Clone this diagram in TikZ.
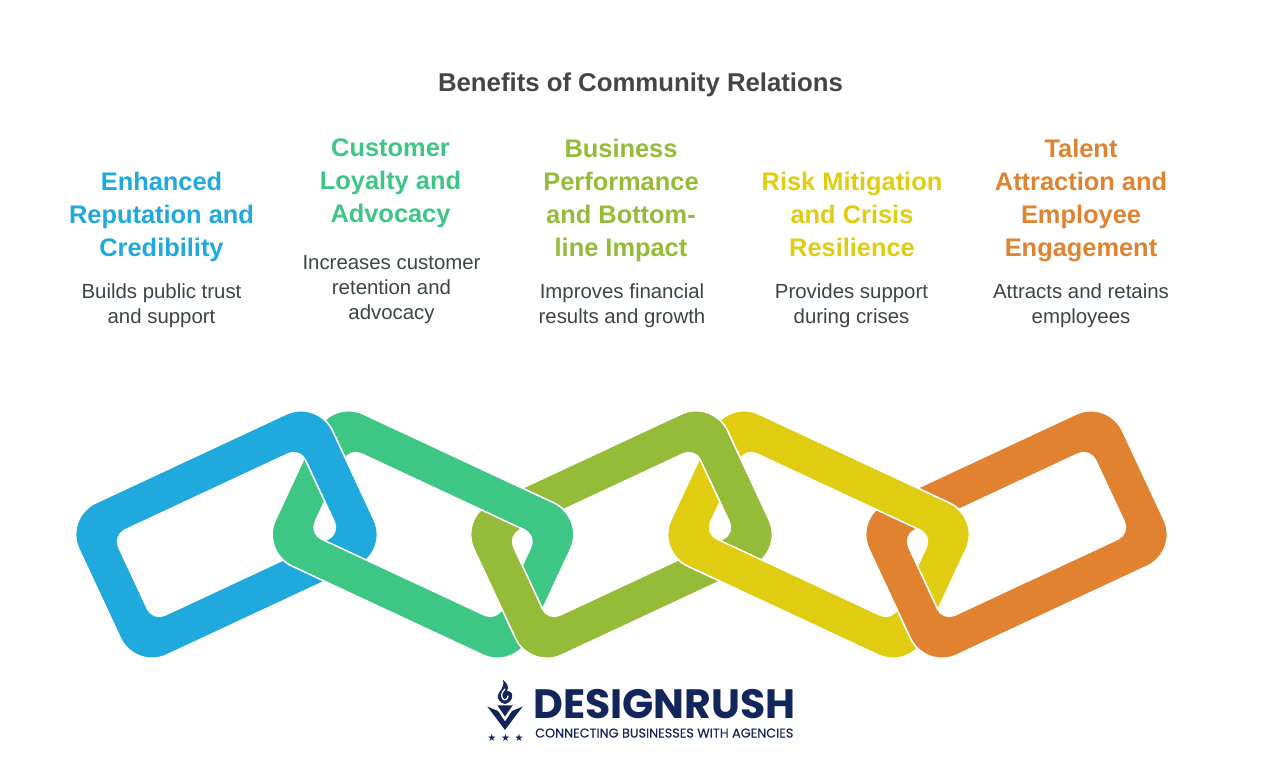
\documentclass[tikz,border=0pt]{standalone}
\usepackage{fontspec}
\setmainfont{Liberation Sans}
\newfontfamily\logofont{Poppins}
\newfontfamily\tagfont[FakeBold=0.2]{Poppins}
\newfontfamily\starfont{DejaVu Sans}
\definecolor{cblue}{HTML}{1FA9DC}
\definecolor{cgreen}{HTML}{3EC684}
\definecolor{clime}{HTML}{94BC38}
\definecolor{cyellow}{HTML}{E0CD12}
\definecolor{corange}{HTML}{E08230}
\definecolor{cnavy}{HTML}{12265C}
\definecolor{ctitle}{HTML}{454545}
\definecolor{cdesc}{HTML}{3C4646}
\newcommand{\chainlink}[4]{%
  \path[shift={(#1,#2)},rotate=#3,fill=#4,draw=white,line width=1.6pt,even odd rule]
    [rounded corners=35pt] (-140,-84) rectangle (140,84)
    [rounded corners=13pt] (-103,-47) rectangle (103,47);}
\tikzset{
  head/.style={font=\fontsize{25.4}{33}\selectfont\bfseries,align=center,anchor=north,inner sep=0pt},
  desc/.style={font=\fontsize{20.4}{25}\selectfont,align=center,anchor=north,inner sep=0pt,text=cdesc}
}
\begin{document}
\begin{tikzpicture}[x=1pt,y=1pt]
\useasboundingbox[fill=white] (0,0) rectangle (1280,766);
\node[font=\fontsize{25.75}{30}\selectfont\bfseries,text=ctitle,inner sep=0pt] (title) at (640.5,681.5) {Benefits of Community Relations};
% headings
\node[head,text=cblue] (h1) at (161.5,594.5) {Enhanced\\Reputation and\\Credibility};
\node[head,text=cgreen] (h2) at (390.5,627) {Customer\\Loyalty and\\Advocacy};
\node[head,text=clime] (h3) at (621,627.5) {Business\\Performance\\and Bottom-\\line Impact};
\node[head,text=cyellow] (h4) at (852,594.5) {Risk Mitigation\\and Crisis\\Resilience};
\node[head,text=corange] (h5) at (1081,627.5) {Talent\\Attraction and\\Employee\\Engagement};
% descriptions
\node[desc] (d1) at (161.5,482) {Builds public trust\\and support};
\node[desc] (d2) at (391.5,511) {Increases customer\\retention and\\advocacy};
\node[desc] (d3) at (622,482) {Improves financial\\results and growth};
\node[desc] (d4) at (851.5,482) {Provides support\\during crises};
\node[desc] (d5) at (1081,482) {Attracts and retains\\employees};
% chain
\chainlink{226.5}{231.5}{25}{cblue}
\chainlink{423}{231.5}{-25}{cgreen}
\chainlink{621.5}{231.5}{25}{clime}
\begin{scope}
  \clip[shift={(423,231.5)},rotate=-25] (-500,46) rectangle (500,500);
  \clip (430,0) rectangle (1280,766);
  \chainlink{423}{231.5}{-25}{cgreen}
\end{scope}
\begin{scope}
  \clip[shift={(423,231.5)},rotate=-25] (-500,-46) rectangle (500,500);
  \clip (250,0) rectangle (400,766);
  \chainlink{226.5}{231.5}{25}{cblue}
\end{scope}
\chainlink{818.5}{231.5}{-25}{cyellow}
\begin{scope}
  \clip[shift={(818.5,231.5)},rotate=-25] (-500,-46) rectangle (500,500);
  \clip (650,0) rectangle (800,766);
  \chainlink{621.5}{231.5}{25}{clime}
\end{scope}
\chainlink{1016.5}{231.5}{25}{corange}
\begin{scope}
  \clip[shift={(818.5,231.5)},rotate=-25] (-500,46) rectangle (500,500);
  \clip (825,0) rectangle (1280,766);
  \chainlink{818.5}{231.5}{-25}{cyellow}
\end{scope}
% logo
\node[font=\logofont\fontsize{41}{42}\selectfont\bfseries,text=cnavy,inner sep=0pt,anchor=base west,text depth=0pt] (logo) at (533,48) {DESIGNRUSH};
\node[font=\tagfont\fontsize{12.8}{14}\selectfont,text=cnavy,inner sep=0pt,anchor=base west,text height=9pt] (tag) at (535,28.5) {CONNECTING BUSINESSES WITH AGENCIES};
\fill[cnavy] (487.3,59.5) -- (505,36) -- (522.7,59.5) -- (512,55) -- (505,44.5) -- (498,55) -- cycle;
\fill[cnavy] (497.5,60.5) -- (512.5,60.5) -- (505,49.5) -- cycle;
\fill[cnavy] (505,62) .. controls (500,63) and (497,67) .. (498,71) .. controls (499,75) and (505,78) .. (503,86) .. controls (508,82) and (509,79) .. (507,75) .. controls (511,75) and (513,72) .. (512,69) .. controls (512,66) and (509,63) .. (505,62) -- cycle;
\draw[white,line width=1.3pt,line cap=round] (505,77) .. controls (501,73) and (501,70) .. (503,67) .. controls (505,65) and (508,67) .. (508,70);
\node[font=\starfont\fontsize{10}{10}\selectfont,text=cnavy,inner sep=0pt] (stars) at (505.5,28.5) {★\hspace{4.6pt}★\hspace{4.6pt}★};
\end{tikzpicture}
\end{document}
